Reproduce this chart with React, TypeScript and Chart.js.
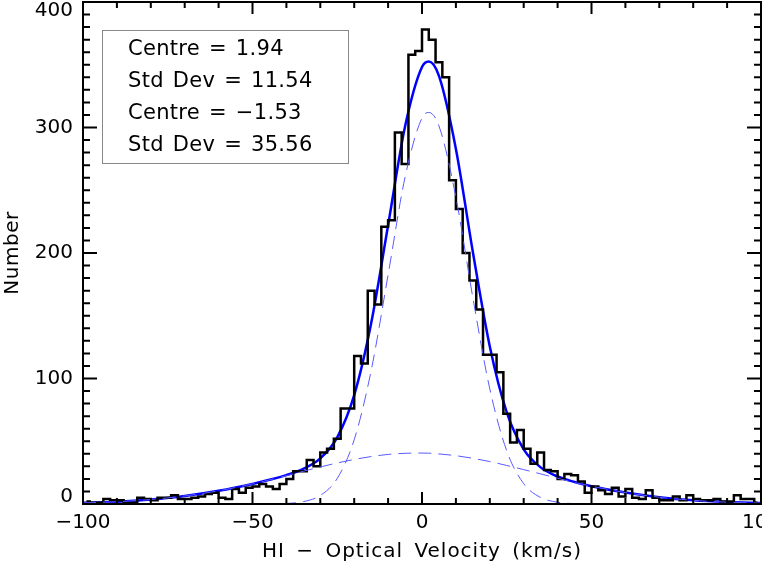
import React, { useEffect, useRef } from 'react';
import { Chart, registerables } from 'chart.js';

Chart.register(...registerables);

// Histogram: bins of 2 km/s starting at -100
const binStart = -100;
const binWidth = 2;
const counts = [
  2, 1, 1, 4, 3, 3, 1, 1, 5, 4,
  3, 5, 5, 7, 4, 4, 5, 6, 8, 9,
  5, 4, 12, 9, 13, 14, 16, 14, 12, 16,
  20, 26, 26, 35, 30, 41, 44, 52, 76, 76,
  118, 112, 170, 159, 221, 226, 296, 271, 358, 361,
  378, 370, 352, 340, 258, 235, 200, 178, 155, 119,
  119, 105, 72, 49, 59, 44, 32, 41, 27, 26,
  20, 24, 23, 18, 9, 14, 11, 8, 13, 6,
  12, 5, 4, 11, 5, 3, 3, 6, 3, 7,
  4, 3, 3, 4, 2, 2, 7, 4, 4, 1,
];

// Fitted curves
const curveX = [-100, -90, -80, -70, -60, -50, -45, -40, -35, -30, -25, -20, -15, -10, -5, 0, 2, 5, 10, 15, 20, 25, 30, 35, 40, 45, 50, 60, 70, 80, 90, 100];
const totalFit = [0.9, 1.8, 3.6, 6.4, 10.5, 16.0, 19.3, 23.0, 28.0, 36.3, 53.1, 86.7, 144.0, 222.1, 300.8, 348.2, 352.5, 341.1, 282.9, 200.8, 125.5, 73.0, 43.6, 29.2, 21.9, 17.5, 14.2, 9.1, 5.4, 2.9, 1.5, 0.7];
const narrowFit = [0, 0, 0, 0, 0, 0, 0.1, 0.4, 1.9, 6.8, 20.4, 51.2, 106.2, 182.6, 260.4, 307.6, 312.0, 301.2, 244.4, 164.4, 91.7, 42.3, 16.2, 5.2, 1.4, 0.3, 0, 0, 0, 0, 0, 0];
const broadFit = [0.9, 1.8, 3.6, 6.4, 10.5, 16.0, 19.2, 22.6, 26.1, 29.5, 32.7, 35.5, 37.8, 39.5, 40.4, 40.6, 40.5, 39.9, 38.5, 36.4, 33.8, 30.7, 27.4, 24.0, 20.5, 17.2, 14.2, 9.1, 5.4, 2.9, 1.5, 0.7];

const legendLines = ['Centre = 1.94', 'Std Dev = 11.54', 'Centre = \u22121.53', 'Std Dev = 35.56'];
const xTitle = 'HI \u2212 Optical Velocity (km/s)';
const yTitle = 'Number';

const FONT = '"DejaVu Sans", sans-serif';

const fmt = (v: number) => (v < 0 ? '\u2212' + Math.abs(v) : String(v));

const overlay = {
  id: 'overlay',
  afterDraw(chart: any) {
    const { ctx, chartArea: a, scales } = chart;
    const xs = scales.x;
    const ys = scales.y;
    ctx.save();
    // frame
    ctx.strokeStyle = '#000';
    ctx.lineWidth = 2;
    ctx.strokeRect(a.left, a.top, a.right - a.left, a.bottom - a.top);
    // ticks (inside, all four sides)
    ctx.beginPath();
    xs.ticks.forEach((t: any) => {
      const px = xs.getPixelForValue(t.value);
      const len = t.value % 50 === 0 ? 12 : 6;
      ctx.moveTo(px, a.bottom);
      ctx.lineTo(px, a.bottom - len);
      ctx.moveTo(px, a.top);
      ctx.lineTo(px, a.top + len);
    });
    ys.ticks.forEach((t: any) => {
      const py = ys.getPixelForValue(t.value);
      const len = t.value % 100 === 0 ? 14 : 7;
      ctx.moveTo(a.left, py);
      ctx.lineTo(a.left + len, py);
      ctx.moveTo(a.right, py);
      ctx.lineTo(a.right - len, py);
    });
    ctx.stroke();

    // tick labels
    ctx.fillStyle = '#000';
    ctx.font = '20px ' + FONT;
    ctx.textAlign = 'right';
    ctx.textBaseline = 'middle';
    ys.ticks.forEach((t: any) => {
      if (t.value % 100 !== 0) return;
      let py = ys.getPixelForValue(t.value);
      py = Math.min(Math.max(py, a.top + 9), a.bottom - 7);
      ctx.fillText(fmt(t.value), a.left - 10, py);
    });
    ctx.textAlign = 'center';
    xs.ticks.forEach((t: any) => {
      if (t.value % 50 !== 0) return;
      const px = xs.getPixelForValue(t.value);
      ctx.fillText(fmt(t.value), px, a.bottom + 19);
    });

    // axis titles
    const c: any = ctx;
    c.letterSpacing = '1px';
    c.wordSpacing = '4px';
    ctx.fillText(xTitle, (a.left + a.right) / 2, a.bottom + 48);
    c.letterSpacing = '0.5px';
    c.wordSpacing = '0px';
    ctx.save();
    ctx.translate(13, (a.top + a.bottom) / 2);
    ctx.rotate(-Math.PI / 2);
    ctx.fillText(yTitle, 0, 0);
    ctx.restore();

    // annotation box
    ctx.strokeStyle = '#888';
    ctx.lineWidth = 1;
    ctx.strokeRect(102.5, 30.5, 246, 133);
    ctx.textAlign = 'left';
    ctx.font = '21px ' + FONT;
    c.letterSpacing = '0.3px';
    c.wordSpacing = '2px';
    legendLines.forEach((s, i) => {
      ctx.fillText(s, 128, 50 + i * 32);
    });
    c.letterSpacing = '0px';
    c.wordSpacing = '0px';
    ctx.restore();
  },
};

export default function App() {
  const ref = useRef<HTMLCanvasElement | null>(null);
  useEffect(() => {
    if (!ref.current) return;
    const histPoints = counts.map((c, i) => ({ x: binStart + binWidth * i + binWidth / 2, y: c }));
    const toPts = (ys: number[]) => ys.map((y, i) => ({ x: curveX[i], y }));
    const chart = new Chart(ref.current, {
      type: 'line',
      data: {
        datasets: [
          {
            data: toPts(narrowFit),
            borderColor: '#5a5aff',
            borderWidth: 1,
            borderDash: [13, 7],
            pointRadius: 0,
            cubicInterpolationMode: 'monotone',
            fill: false,
          },
          {
            data: toPts(broadFit),
            borderColor: '#5a5aff',
            borderWidth: 1,
            borderDash: [13, 7],
            pointRadius: 0,
            cubicInterpolationMode: 'monotone',
            fill: false,
          },
          {
            data: histPoints,
            borderColor: '#000',
            borderWidth: 2.5,
            pointRadius: 0,
            stepped: 'middle',
            fill: false,
          },
          {
            data: toPts(totalFit),
            borderColor: '#0000ff',
            borderWidth: 2.5,
            pointRadius: 0,
            cubicInterpolationMode: 'monotone',
            fill: false,
          },
        ],
      } as any,
      options: {
        animation: false,
        responsive: false,
        events: [],
        layout: { padding: { left: 83, top: 2, right: 1, bottom: 66 } },
        plugins: { legend: { display: false }, tooltip: { enabled: false } },
        scales: {
          x: {
            type: 'linear',
            min: -100,
            max: 100,
            ticks: { stepSize: 10, display: false },
            grid: { display: false },
            border: { display: false },
            afterFit: (s: any) => { s.height = 0; },
          },
          y: {
            type: 'linear',
            min: 0,
            max: 400,
            ticks: { stepSize: 10, display: false },
            grid: { display: false },
            border: { display: false },
            afterFit: (s: any) => { s.width = 0; },
          },
        },
      } as any,
      plugins: [overlay],
    });
    return () => chart.destroy();
  }, []);
  return (
    <div style={{ position: 'absolute', left: 0, top: 0, width: 762, height: 570, background: '#fff' }}>
      <canvas ref={ref} width={762} height={570} style={{ display: 'block' }} />
    </div>
  );
}
